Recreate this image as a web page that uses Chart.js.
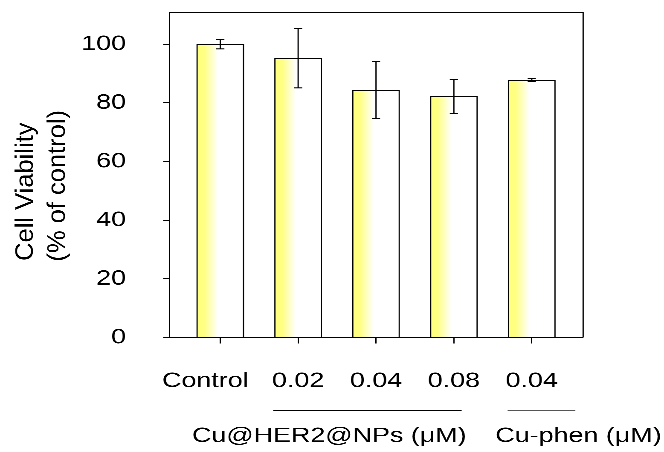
<!DOCTYPE html>
<html>
<head>
<meta charset="utf-8">
<script src="https://cdn.jsdelivr.net/npm/chart.js@4.4.1/dist/chart.umd.min.js"></script>
<style>
  html, body { margin: 0; padding: 0; background: #fff; overflow: hidden; }
  /* the original figure has its text stretched sideways, so draw narrow and widen */
  #chart { display: block; transform: scaleX(1.27938); transform-origin: 0 0; }
</style>
</head>
<body>
<canvas id="chart" width="519" height="452"></canvas>
<script>
const categories = ["Control", "0.02", "0.04", "0.08", "0.04"];
const viability = [100, 95.2, 84.4, 82.3, 87.8];
const errors = [1.6, 10.1, 9.7, 5.8, 0.5];
const yTicks = [0, 20, 40, 60, 80, 100];
const groupNames = ["Cu@HER2@NPs (μM)", "Cu-phen (μM)"];
const groupFirst = [1, 4];
const groupLast = [3, 4];

const STRETCH = 664 / 519;
const BAR_W = 36.7;
const FONT = "'Liberation Sans', Arial, sans-serif";

function barFill(ctx) {
  const chart = ctx.chart;
  if (!chart.chartArea || ctx.type !== "data") return "#ffff80";
  const x = chart.scales.x.getPixelForValue(ctx.dataIndex);
  const g = chart.ctx.createLinearGradient(x - BAR_W / 2, 0, x + BAR_W / 2, 0);
  g.addColorStop(0, "#ffff80");
  g.addColorStop(0.15, "#ffff80");
  g.addColorStop(0.45, "#ffffff");
  g.addColorStop(1, "#ffffff");
  return g;
}

// error bars, top/right frame, group labels and the y title
const extras = {
  id: "extras",
  afterDatasetsDraw(chart) {
    const { ctx, scales: { x, y } } = chart;
    ctx.save();
    ctx.strokeStyle = "#000";
    ctx.lineWidth = 1;
    viability.forEach((v, i) => {
      const px = x.getPixelForValue(i);
      const top = y.getPixelForValue(v + errors[i]);
      const bot = y.getPixelForValue(v - errors[i]);
      ctx.beginPath();
      ctx.moveTo(px, top); ctx.lineTo(px, bot);
      ctx.moveTo(px - 3.2, top); ctx.lineTo(px + 3.2, top);
      ctx.moveTo(px - 3.2, bot); ctx.lineTo(px + 3.2, bot);
      ctx.stroke();
    });
    ctx.restore();
  },
  afterDraw(chart) {
    const { ctx, chartArea: a, scales: { x } } = chart;
    ctx.save();
    ctx.strokeStyle = "#000";
    ctx.lineWidth = 1;
    ctx.beginPath();
    ctx.moveTo(a.left, a.top + 0.5);
    ctx.lineTo(a.right + 0.5, a.top + 0.5);
    ctx.lineTo(a.right + 0.5, a.bottom);
    ctx.stroke();

    // group brackets under the category labels
    const lineStart = [-0.32, -0.31];
    const lineEnd = [0.1, 0.56];
    const textAt = [-0.6, 0.6];
    const lineColor = ["#000", "#555"];
    ctx.font = "21px " + FONT;
    ctx.fillStyle = "#000";
    ctx.textAlign = "center";
    ctx.textBaseline = "alphabetic";
    groupNames.forEach((name, k) => {
      ctx.strokeStyle = lineColor[k];
      ctx.beginPath();
      ctx.moveTo(x.getPixelForValue(groupFirst[k] + lineStart[k]), 410.5);
      ctx.lineTo(x.getPixelForValue(groupLast[k] + lineEnd[k]), 410.5);
      ctx.stroke();
      ctx.fillText(name, x.getPixelForValue((groupFirst[k] + groupLast[k]) / 2 + textAt[k]), 442);
    });

    // y title is not stretched in the original, undo the widening
    ctx.scale(1 / STRETCH, 1);
    ctx.font = "25.5px " + FONT;
    const titleLines = ["Cell Viability", "(% of control)"];
    const baseX = [32.7, 65];
    const midY = [191.7, 185.8];
    titleLines.forEach((t, k) => {
      ctx.save();
      ctx.translate(baseX[k], midY[k]);
      ctx.rotate(-Math.PI / 2);
      ctx.fillText(t, 0, 0);
      ctx.restore();
    });
    ctx.restore();
  }
};

new Chart(document.getElementById("chart"), {
  type: "bar",
  data: {
    datasets: [{
      data: viability.map((v, i) => ({ x: i, y: v })),
      backgroundColor: barFill,
      borderColor: "#000",
      borderWidth: 1,
      barThickness: BAR_W
    }]
  },
  options: {
    responsive: false,
    devicePixelRatio: 3,
    animation: false,
    layout: { padding: { top: 12, right: 63.7, left: 0, bottom: 0 } },
    plugins: { legend: { display: false }, tooltip: { enabled: false } },
    scales: {
      x: {
        type: "linear",
        offset: false,
        min: -0.652,
        max: 4.652,
        afterBuildTicks: (s) => { s.ticks = categories.map((c, i) => ({ value: i })); },
        afterFit: (s) => {
          s.height = 114.5;
          s.paddingLeft = 0; s.paddingRight = 0;
        },
        grid: { offset: false, drawOnChartArea: false, tickLength: 6, color: "#000" },
        border: { color: "#000" },
        ticks: {
          autoSkip: false,
          maxRotation: 0,
          padding: 25,
          color: "#000",
          font: { family: FONT, size: 21 },
          // "Control" sits left of its tick in the original
          callback: (v) => v === 0 ? categories[v] + "    " : categories[v]
        }
      },
      y: {
        min: 0,
        max: 111,
        afterBuildTicks: (s) => { s.ticks = yTicks.map(v => ({ value: v })); },
        afterFit: (s) => {
          s.width = 132.5;
          s.paddingTop = 0; s.paddingBottom = 0;
        },
        grid: { drawOnChartArea: false, tickLength: 5, color: "#000" },
        border: { color: "#000" },
        ticks: {
          padding: 29,
          color: "#000",
          font: { family: FONT, size: 21 }
        }
      }
    }
  },
  plugins: [extras]
});
</script>
</body>
</html>
